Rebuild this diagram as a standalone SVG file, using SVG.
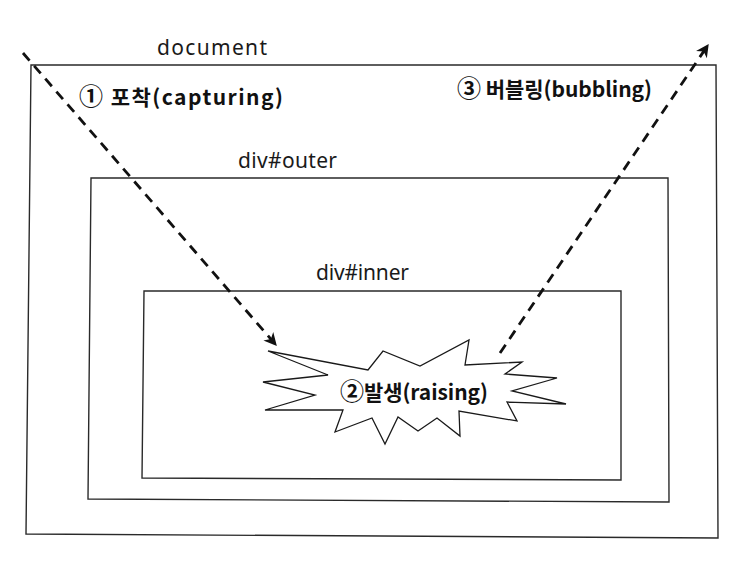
<svg xmlns="http://www.w3.org/2000/svg" width="752" height="564" viewBox="0 0 752 564">
  <style>
    .box { fill: none; stroke: #2a2a2a; stroke-width: 1.4; stroke-linejoin: miter; }
    .name { font-family: "Noto Sans", "Noto Sans CJK KR", sans-serif; font-size: 21px; fill: #1a1a1a; }
    .bold { font-family: "Noto Sans CJK KR", "Noto Sans", sans-serif; font-size: 21px; font-weight: bold; fill: #111; }
    .num { font-size: 24px; }
    .flow { fill: none; stroke: #111; stroke-width: 2.8; stroke-dasharray: 10 7; }
    .burst { fill: #fff; stroke: #1a1a1a; stroke-width: 1.3; stroke-linejoin: miter; }
  </style>
  <defs>
    <marker id="head" viewBox="0 0 10 10" refX="9" refY="5" markerUnits="userSpaceOnUse" markerWidth="15" markerHeight="13" orient="auto">
      <path d="M0,0 L10,5 L0,10 L3,5 z" fill="#111"/>
    </marker>
  </defs>
  <rect width="752" height="564" fill="#fff"/>

  <g id="document">
    <polygon class="box" points="31,65 716,65 718,538 26,534"/>
    <text class="name" x="157" y="55" textLength="110">document</text>
  </g>

  <g id="outer">
    <polygon class="box" points="91,178 668,178 669,502 88,499"/>
    <text class="name" x="238" y="168" textLength="99">div#outer</text>
  </g>

  <g id="inner">
    <polygon class="box" points="144,291 621,291 621,480 142,478"/>
    <text class="name" x="316" y="280" textLength="93">div#inner</text>
  </g>

  <g id="event">
    <polygon class="burst" points="268,351 368,370 383,351 420,366 469,340 465,365 522,362 505,374 557,378 512,391 566,404 507,402 517,421 459,411 460,436 437,418 418,431 398,417 385,444 372,418 335,432 343,410 265,410 315,395 263,382 328,375"/>
    <text class="bold" x="340" y="400" textLength="148"><tspan class="num">②</tspan>발생(raising)</text>
  </g>

  <g id="connectors">
    <line class="flow" x1="23" y1="53" x2="276" y2="345" marker-end="url(#head)"/>
    <line class="flow" x1="500" y1="353" x2="708" y2="45" marker-end="url(#head)"/>
    <text class="bold" x="79" y="105" textLength="204"><tspan class="num">①</tspan> 포착(capturing)</text>
    <text class="bold" x="457" y="97" textLength="195"><tspan class="num">③</tspan> 버블링(bubbling)</text>
  </g>
</svg>
